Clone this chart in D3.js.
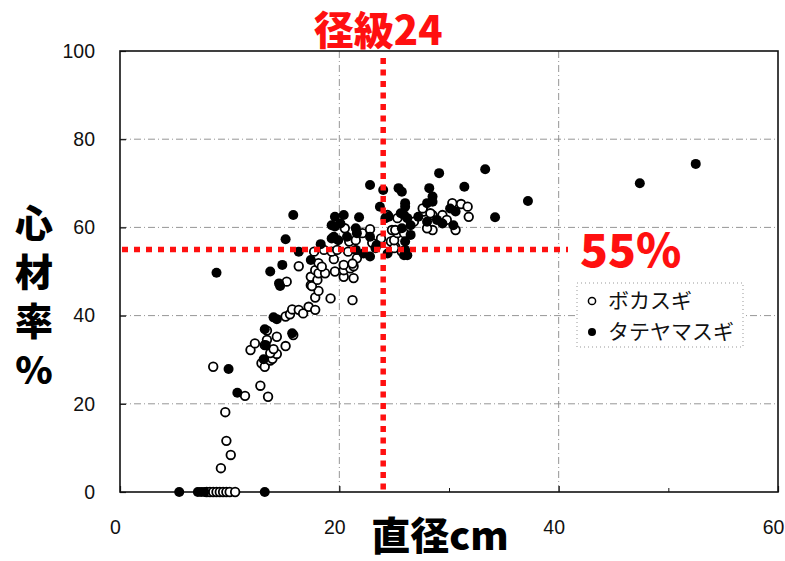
<!DOCTYPE html>
<html>
<head>
<meta charset="utf-8">
<script src="https://cdn.jsdelivr.net/npm/d3@7"></script>
<style>
  html, body { margin: 0; padding: 0; background: #fff; }
  svg { display: block; }
</style>
</head>
<body>
<svg id="chart" width="785" height="561"></svg>
<script>
// 直径 (cm) と心材率 (%) の測定値
const bokasugiPoints = [
  [7.9,0],[8.2,0],[8.5,0],[8.8,0],[9.1,0],[9.4,0],[9.7,0],[10.0,0],[10.5,0],
  [9.2,5.4],[10.1,8.4],[9.7,11.6],[9.6,18.1],[8.5,28.4],[11.4,21.8],[12.8,24.1],[13.5,21.6],
  [11.9,32.2],[12.3,33.7],[12.9,29.2],[13.2,28.4],[13.7,29.8],[13.9,30.2],[14.3,31.3],
  [13.7,31.5],[14.0,32.4],[13.4,34.5],[13.2,33.3],[15.1,33.1],[14.3,35.2],[13.4,36.6],[15.8,35.6],
  [15.1,39.8],[15.5,40.3],[15.7,41.4],[16.3,41.3],[16.7,40.5],[17.2,42.0],[17.8,41.3],[17.8,44.1],
  [19.2,43.9],[21.2,43.5],[18.1,45.6],[17.4,46.9],[17.5,46.7],[15.2,47.7],[17.4,48.8],[18.0,48.1],
  [20.4,48.8],[21.3,48.5],[17.8,50.3],[18.1,49.6],[18.7,49.6],[19.6,50.0],[20.4,50.3],[21.0,50.7],
  [21.3,51.2],[18.1,51.9],[18.4,51.1],[16.3,51.2],[19.5,52.8],[17.7,54.5],[18.6,54.9],[19.3,54.5],
  [19.8,54.9],[20.8,54.5],[21.6,53.0],[21.2,51.8],[20.4,51.5],[20.9,56.8],[21.5,57.1],[22.1,58.7],
  [22.8,59.6],[20.5,59.8],[23.0,56.5],[23.8,57.5],[24.7,56.8],[25.1,55.6],[25.0,55.3],[25.7,54.5],
  [25.0,57.1],[25.3,58.7],[24.8,59.4],[25.1,59.4],[25.9,58.7],[24.4,62.8],[25.3,62.1],[26.8,61.3],
  [27.7,63.6],[28.5,62.8],[27.6,64.3],[28.3,63.2],[29.4,62.8],[29.8,61.7],[28.5,59.4],[28.0,59.8],
  [30.6,59.4],[30.3,65.5],[31.1,65.3],[31.7,64.7],[31.8,62.4]
];

const tateyamasugiPoints = [
  [5.4,0],[7.1,0],[7.4,0],[7.7,0],[13.2,0],
  [8.8,49.7],[9.9,27.9],[10.7,22.5],[13.3,33.3],[13.1,30.1],[13.2,36.9],[15.7,36.0],[14.0,39.6],
  [14.3,39.2],[14.5,47.3],[14.6,46.7],[13.7,50.0],[14.8,51.5],[15.1,57.3],[15.8,62.8],[16.3,54.5],
  [17.4,52.6],[18.3,56.2],[19.3,57.5],[19.9,57.1],[19.5,57.9],[20.7,57.9],[21.6,58.7],[19.3,60.5],
  [20.1,60.9],[19.6,60.2],[21.5,59.8],[19.6,62.4],[20.4,62.8],[21.8,62.3],[22.8,69.6],[22.8,57.9],
  [21.5,54.9],[22.2,54.1],[22.8,53.4],[23.3,55.3],[23.4,56.0],[24.0,68.5],[25.4,68.9],[25.7,68.1],
  [28.2,68.9],[31.4,69.2],[29.1,72.3],[33.3,73.2],[28.5,67.0],[28.5,65.8],[28.0,65.5],[26.0,65.5],
  [26.0,64.7],[23.7,64.7],[30.1,64.3],[30.6,63.6],[34.2,62.3],[37.2,66.0],[47.4,70.0],[52.5,74.4],
  [24.2,62.1],[24.5,62.4],[25.6,63.2],[25.9,62.8],[26.2,62.1],[27.2,62.4],[28.9,61.7],[29.4,60.9],
  [28.0,61.3],[30.4,60.5],[26.5,60.5],[25.7,59.8],[26.5,58.3],[26.0,56.8],[25.9,53.7],[24.4,54.1],
  [26.0,54.9],[26.2,53.7]
];

const xTicks = [0, 20, 40, 60];
const xMinorTicks = [10, 30, 50];
const yTicks = [0, 20, 40, 60, 80, 100];
const seriesNames = ["ボカスギ", "タテヤマスギ"];

// 基準線: 径級と心材率
const refDiameter = 24;
const refRatio = 55;

const svg = d3.select("#chart");
const plotL = 120, plotR = 778, plotT = 51, plotB = 492;

const x = d3.scaleLinear().domain([0, 60]).range([plotL, plotR]);
const y = d3.scaleLinear().domain([0, 100]).range([plotB, plotT]);

const numFont = "'Liberation Sans', Arial, sans-serif";
const jpFont = "'Noto Sans CJK JP', 'Noto Sans', sans-serif";

// グリッド線 (一点鎖線)
const grid = svg.append("g").attr("stroke", "#8a8a8a").attr("stroke-width", 0.9)
  .attr("stroke-dasharray", "7 3 1 3").attr("fill", "none");
yTicks.filter(v => v > 0 && v < 100).forEach(v => {
  grid.append("line").attr("x1", plotL).attr("x2", plotR).attr("y1", y(v)).attr("y2", y(v));
});
xTicks.filter(v => v > 0 && v < 60).forEach(v => {
  grid.append("line").attr("x1", x(v)).attr("x2", x(v)).attr("y1", plotT).attr("y2", plotB);
});

// 軸 (目盛りは内向き)
const xAxis = d3.axisBottom(x).tickValues(xTicks).tickSize(-6).tickPadding(28);
const xMinor = d3.axisBottom(x).tickValues(xMinorTicks).tickSize(-4).tickFormat("");
const yAxis = d3.axisLeft(y).tickValues(yTicks).tickSize(-6).tickPadding(25);

const gx = svg.append("g").attr("transform", `translate(0,${plotB})`).call(xAxis);
const gxm = svg.append("g").attr("transform", `translate(0,${plotB})`).call(xMinor);
gxm.select(".domain").remove();
gxm.selectAll("line").attr("stroke", "#111");
const gy = svg.append("g").attr("transform", `translate(${plotL},0)`).call(yAxis);

[gx, gy].forEach(g => {
  g.select(".domain").remove();
  g.selectAll("line").attr("stroke", "#111").attr("stroke-width", 1.2);
  g.selectAll("text").attr("font-family", numFont).attr("font-size", 19.5).attr("fill", "#111");
});
gx.selectAll("text").attr("dx", -5);

// 枠
svg.append("rect").attr("x", plotL).attr("y", plotT)
  .attr("width", plotR - plotL).attr("height", plotB - plotT)
  .attr("fill", "none").attr("stroke", "#111").attr("stroke-width", 1.6);

// データ点
svg.append("g").selectAll("circle").data(bokasugiPoints).join("circle")
  .attr("cx", d => x(d[0])).attr("cy", d => y(d[1])).attr("r", 4.3)
  .attr("fill", "#fff").attr("stroke", "#000").attr("stroke-width", 1.8);

svg.append("g").selectAll("circle").data(tateyamasugiPoints).join("circle")
  .attr("cx", d => x(d[0])).attr("cy", d => y(d[1])).attr("r", 5)
  .attr("fill", "#000");

// 凡例
const legend = svg.append("g");
legend.append("rect").attr("x", 577).attr("y", 283).attr("width", 166).attr("height", 64)
  .attr("fill", "#fff").attr("stroke", "#999").attr("stroke-width", 1)
  .attr("stroke-dasharray", "1 3");
legend.append("circle").attr("cx", 592).attr("cy", 301).attr("r", 3.6)
  .attr("fill", "#fff").attr("stroke", "#000").attr("stroke-width", 1.5);
legend.append("circle").attr("cx", 592).attr("cy", 332).attr("r", 4)
  .attr("fill", "#000");
legend.selectAll("text").data(seriesNames).join("text")
  .attr("x", 608).attr("y", (d, i) => 301 + i * 31)
  .attr("dy", "0.35em")
  .attr("font-family", jpFont).attr("font-size", 21).attr("fill", "#111")
  .text(d => d);

// 基準線 (赤の点線)
const red = "#ff1010";
svg.append("line")
  .attr("x1", x(refDiameter)).attr("x2", x(refDiameter))
  .attr("y1", 58).attr("y2", plotB)
  .attr("stroke", red).attr("stroke-width", 5.5).attr("stroke-dasharray", "6 5.5");
svg.append("line")
  .attr("x1", plotL + 2).attr("x2", 568)
  .attr("y1", y(refRatio)).attr("y2", y(refRatio))
  .attr("stroke", red).attr("stroke-width", 5.5).attr("stroke-dasharray", "6 6");

svg.append("text").attr("x", x(refDiameter) - 5).attr("y", 45)
  .attr("text-anchor", "middle")
  .attr("font-family", jpFont).attr("font-weight", 900).attr("font-size", 40)
  .attr("fill", red).text(`径級${refDiameter}`);

svg.append("text").attr("x", 580).attr("y", 267)
  .attr("font-family", jpFont).attr("font-weight", 900).attr("font-size", 46)
  .attr("fill", red).text(`${refRatio}%`);

// 軸タイトル (縦書き)
svg.append("text")
  .attr("x", 34).attr("y", 204)
  .style("writing-mode", "vertical-rl")
  .style("text-orientation", "upright")
  .style("letter-spacing", "11px")
  .attr("font-family", jpFont).attr("font-weight", 900).attr("font-size", 38)
  .attr("fill", "#000").text("心材率%");

svg.append("text").attr("x", 440).attr("y", 550)
  .attr("text-anchor", "middle")
  .attr("font-family", jpFont).attr("font-weight", 900).attr("font-size", 39)
  .attr("fill", "#000").text("直径cm");
</script>
</body>
</html>
